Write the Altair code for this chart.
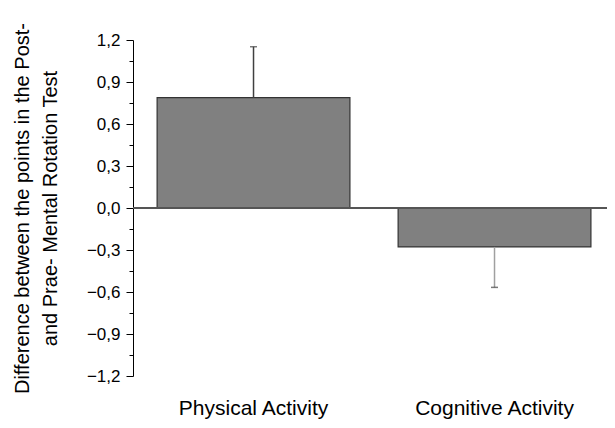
import altair as alt
import pandas as pd

categories = ["Physical Activity", "Cognitive Activity"]
means = [0.788, -0.278]
errors = [0.364, -0.289]
major_ticks = [-1.2, -0.9, -0.6, -0.3, 0.0, 0.3, 0.6, 0.9, 1.2]
minor_ticks = [-1.05, -0.75, -0.45, -0.15, 0.15, 0.45, 0.75, 1.05]

df = pd.DataFrame({
    "cat": categories,
    "mean": means,
    "end": [m + e for m, e in zip(means, errors)],
})
df_minor = pd.DataFrame({"v": minor_ticks})

FONT = "Liberation Sans"
W, H = 474, 336
yscale = alt.Scale(domain=[-1.2, 1.2], nice=False, zero=False)
xenc = alt.X("cat:N", sort=categories, title=None,
             scale=alt.Scale(paddingInner=0.2, paddingOuter=0.0834, align=0.6),
             axis=alt.Axis(domain=False, ticks=False, tickSize=0, labelAngle=0, labelFontSize=21,
                           labelFont=FONT, labelColor="#000", labelPadding=21, labelBaseline="top"))
xplain = alt.X("cat:N", sort=categories)

bars = alt.Chart(df).mark_bar(color="#808080", stroke="#333333", strokeWidth=1.2).encode(
    x=xenc,
    y=alt.Y("mean:Q", scale=yscale,
            title=["Difference between the points in the Post-", "and Prae- Mental Rotation Test"],
            axis=alt.Axis(values=major_ticks, grid=False,
                          labelExpr="replace(format(datum.value, '.1f'), '.', ',')",
                          labelFontSize=17, labelFont=FONT, labelColor="#000", labelPadding=6,
                          tickSize=7, tickColor="#000", tickWidth=1, domainColor="#000", domainWidth=1,
                          titleFontSize=20, titleFont=FONT, titleFontWeight="normal", titleColor="#000",
                          titleLineHeight=28, titleX=-101, titleY=H / 2, titleBaseline="bottom",
                          titleAlign="center", titleAngle=270)),
)
whisk = alt.Chart(df).mark_rule(strokeWidth=1.5).encode(
    x=xplain, y=alt.Y("mean:Q", scale=yscale, axis=None), y2="end:Q",
    color=alt.condition(alt.datum.mean < 0, alt.value("#a0a0a0"), alt.value("#404040")))
caps = alt.Chart(df).mark_tick(color="#404040", size=7, thickness=1.5, orient="horizontal").encode(
    x=xplain, y=alt.Y("end:Q", scale=yscale, axis=None))
zero = alt.Chart(pd.DataFrame({"z": [0.0]})).mark_rule(color="#555555", strokeWidth=2).encode(
    y=alt.Y("z:Q", scale=yscale, axis=None), x=alt.value(0), x2=alt.value(W))

minor = alt.Chart(df_minor).mark_point(opacity=0).encode(
    y=alt.Y("v:Q", scale=yscale, title=None,
            axis=alt.Axis(orient="left", values=minor_ticks, labels=False, domain=False, grid=False,
                          tickSize=4, tickColor="#000", tickWidth=1)))

chart = alt.layer(bars, whisk, caps, zero, minor).resolve_axis(y="independent").properties(
    width=W, height=H,
    background="white",
    autosize=alt.AutoSizeParams(type="none"),
    padding={"left": 125, "top": 32, "right": 0, "bottom": 44},
).configure_view(strokeWidth=0, stroke="transparent")

chart.save("out.html", embed_options={"renderer": "svg", "actions": False})
